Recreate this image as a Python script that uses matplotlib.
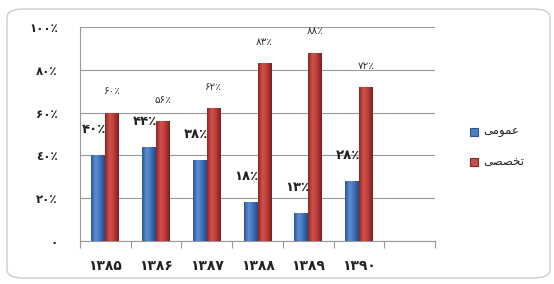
import matplotlib
matplotlib.use("Agg")
import matplotlib.pyplot as plt
import numpy as np
from matplotlib.patches import FancyBboxPatch, Rectangle
from matplotlib.colors import LinearSegmentedColormap

years = ["۱۳۸۵", "۱۳۸۶", "۱۳۸۷", "۱۳۸۸", "۱۳۸۹", "۱۳۹۰"]
general = [40, 44, 38, 18, 13, 28]       # عمومی
special = [60, 56, 62, 83, 88, 72]       # تخصصی
general_labels = ["۴۰٪", "۴۴٪", "۳۸٪", "۱۸٪", "۱۳٪", "۲۸٪"]
special_labels = ["۶۰٪", "۵۶٪", "۶۲٪", "۸۳٪", "۸۸٪", "۷۲٪"]
yticks = [0, 20, 40, 60, 80, 100]
ytick_labels = ["۰", "۲۰٪", "٤۰٪", "۶۰٪", "۸۰٪", "۱۰۰٪"]
# legend names (presentation forms, visual order)
name_general = "\ufef0\ufee3\ufeee\ufee4\ufecb"   # عمومی
name_special = "\ufef0\ufebc\ufebc\ufea8\ufe97"   # تخصصی

plt.rcParams['font.family'] = ['DejaVu Sans']

W, H = 554, 284
fig = plt.figure(figsize=(W/100, H/100), dpi=100)
fig.patch.set_facecolor("white")

# outer rounded frame
frame = FancyBboxPatch((7/W, 6/H), 543/W, 269/H,
                       boxstyle="round,pad=0,rounding_size=0.03",
                       transform=fig.transFigure, fill=False,
                       edgecolor="#cccccc", linewidth=1.0)
fig.patches.append(frame)

ax = fig.add_axes([80/W, 1-241/H, 355/W, 214/H])

x = np.arange(len(years))
bw = 0.275
cmap_b = LinearSegmentedColormap.from_list("b", ["#2c5595", "#5b8fd6", "#3f6fb8", "#224a86"])
cmap_r = LinearSegmentedColormap.from_list("r", ["#8c2522", "#d4524e", "#b83a36", "#7c1f1c"])
grad = np.linspace(0, 1, 64).reshape(1, -1)

def gbars(xs, vals, cmap):
    bars = ax.bar(xs, vals, width=bw, align="edge", color="none", edgecolor="none", zorder=3)
    for b in bars:
        x0, y0 = b.get_x(), b.get_y()
        w, h = b.get_width(), b.get_height()
        im = ax.imshow(grad, cmap=cmap, aspect="auto", extent=[x0, x0+w, y0, y0+h],
                       zorder=3, interpolation="bicubic")
        im.set_clip_path(b)
    return bars

gbars(x - bw, general, cmap_b)
gbars(x, special, cmap_r)
ax.set_xlim(-0.5, 6.5)
ax.set_ylim(0, 100)

for xi, v, lab in zip(x, special, special_labels):
    ax.text(xi + bw/2, v + 10, lab, ha="center", va="center", fontsize=7.5,
            color="#333333", zorder=4)
for xi, v, lab in zip(x, general, general_labels):
    ax.text(xi - bw*0.8, v + 12, lab, ha="center", va="center", fontsize=9.5,
            fontweight="bold", color="#222222", zorder=4)

ax.set_yticks(yticks)
ax.set_yticklabels(ytick_labels, fontsize=8.5, fontweight="bold", color="#222222")
ax.yaxis.grid(True, color="#999999", linewidth=0.8)
ax.set_axisbelow(True)
ax.tick_params(axis="y", length=0, pad=16)

ax.set_xticks(np.arange(-0.5, 7.0, 1.0))
ax.set_xticklabels([])
ax.set_xticks(x, minor=True)
ax.set_xticklabels(years, minor=True, fontsize=10, fontweight="bold", color="#222222")
ax.tick_params(axis="x", which="major", length=5, color="#999999", direction="out")
ax.tick_params(axis="x", which="minor", length=0, pad=13)

for s in ["top", "right"]:
    ax.spines[s].set_visible(False)
ax.spines["left"].set_color("#999999")
ax.spines["bottom"].set_color("#999999")

# legend
for (yy, name, c1, c2) in [(132, name_general, "#4f81bd", "#2c5595"),
                           (162, name_special, "#c0504d", "#8c2522")]:
    fig.patches.append(Rectangle((470/W, 1-(yy+4)/H), 8/W, 8/H, transform=fig.transFigure,
                                 facecolor=c1, edgecolor=c2, linewidth=0.8))
    fig.text(483/W, 1-yy/H, name, ha="left", va="center", fontsize=8.5, color="#222222")

fig.savefig("out.png", dpi=100, facecolor="white")
